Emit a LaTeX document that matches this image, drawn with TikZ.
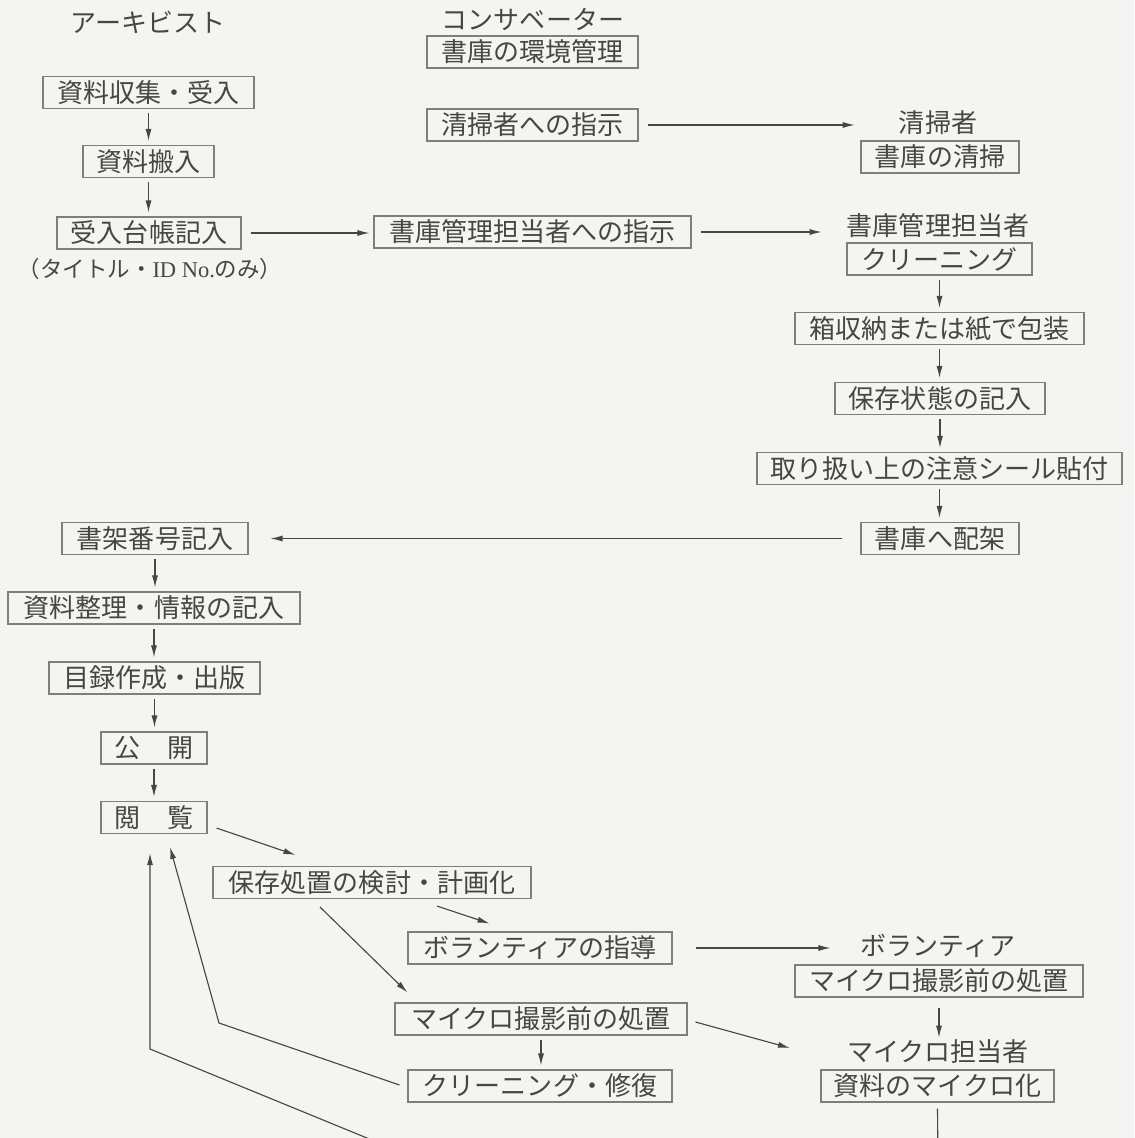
\documentclass[tikz,border=0pt]{standalone}
\usepackage{fontspec}
\setmainfont{Noto Sans CJK JP}
\newfontfamily\latserif{Liberation Serif}
\usetikzlibrary{arrows.meta,calc}
\definecolor{bg}{HTML}{F4F4F2}
\definecolor{ink}{HTML}{474643}
\definecolor{frame}{HTML}{807E77}
\newdimen\pxu \pxu=0.025cm
\begin{document}
\begin{tikzpicture}[x=0.025cm,y=-0.025cm,
  bx/.style={draw=frame, line width=0.75pt, text=ink, inner xsep=0pt, inner ysep=0pt,
    minimum height=32\pxu, minimum width=#1\pxu, font=\fontsize{18.5}{20}\selectfont},
  ttl/.style={text=ink, inner sep=0pt, font=\fontsize{18.5}{20}\selectfont},
  note/.style={text=ink, inner sep=0pt, font=\fontsize{16}{18}\selectfont},
  arr/.style={draw=ink, line width=0.8pt, -{Latex[length=3mm,width=1.5mm]}},
  vert/.style={arr, shorten <=4\pxu, shorten >=4\pxu}
]
\useasboundingbox (0,0) rectangle (1134,1138);
\fill[bg] (0,0) rectangle (1134,1138);
\clip (0,0) rectangle (1134,1138);

% archivist column
\node[ttl] (arch) at (148,22) {アーキビスト};
\node[bx=211] (shushu) at (148.5,92.5) {資料収集・受入};
\node[bx=131] (hannyu) at (148.5,161.5) {資料搬入};
\node[bx=184] (daicho) at (149,233) {受入台帳記入};
\node[note] (note) at (150,269) {（タイトル・{\latserif ID No.}のみ）};

% conservator column
\node[ttl] (cons) at (533,20) {コンサベーター};
\node[bx=211] (kankyo) at (532.5,52) {書庫の環境管理};
\node[bx=211] (shiji1) at (532.5,125) {清掃者への指示};
\node[bx=317] (shiji2) at (532.5,232) {書庫管理担当者への指示};

% right column
\node[ttl] (seisosha) at (938,123) {清掃者};
\node[bx=158] (seiso) at (940,157) {書庫の清掃};
\node[ttl] (kanri) at (938,226) {書庫管理担当者};
\node[bx=185] (cl1) at (939.5,259) {クリーニング};
\node[bx=289] (hako) at (939.5,328.5) {箱収納または紙で包装};
\node[bx=210] (jotai) at (940,398.5) {保存状態の記入};
\node[bx=365] (seal) at (939.5,468.5) {取り扱い上の注意シール貼付};
\node[bx=158] (haika) at (940,538.5) {書庫へ配架};

% left lower column
\node[bx=186] (shoka) at (155,538.5) {書架番号記入};
\node[bx=292] (seiri) at (154,608) {資料整理・情報の記入};
\node[bx=211] (mokuroku) at (154.5,678) {目録作成・出版};
\node[bx=106] (kokai) at (154,748) {公　開};
\node[bx=106] (etsuran) at (154,817.5) {閲　覧};

% middle lower
\node[bx=318] (kento) at (372,882.5) {保存処置の検討・計画化};
\node[bx=264] (shido) at (540,948) {ボランティアの指導};
\node[bx=292] (mae) at (541,1019) {マイクロ撮影前の処置};
\node[bx=264] (shufuku) at (540,1086) {クリーニング・修復};

% right lower
\node[ttl] (vol) at (938,946) {ボランティア};
\node[bx=288] (vmae) at (939,981) {マイクロ撮影前の処置};
\node[ttl] (mtan) at (938,1052) {マイクロ担当者};
\node[bx=233] (mka) at (937.5,1086) {資料のマイクロ化};

% vertical arrows
\draw[vert] (shushu.south) -- (shushu.south |- hannyu.north);
\draw[vert] (hannyu.south) -- (hannyu.south |- daicho.north);
\draw[vert] (cl1.south) -- (cl1.south |- hako.north);
\draw[vert] (hako.south) -- (hako.south |- jotai.north);
\draw[vert] (jotai.south) -- (jotai.south |- seal.north);
\draw[vert] (seal.south) -- (seal.south |- haika.north);
\draw[vert] (shoka.south) -- (shoka.south |- seiri.north);
\draw[vert] (seiri.south) -- (seiri.south |- mokuroku.north);
\draw[vert] (mokuroku.south) -- (mokuroku.south |- kokai.north);
\draw[vert] (kokai.south) -- (kokai.south |- etsuran.north);
\draw[vert] (mae.south) -- (mae.south |- shufuku.north);
\draw[arr, shorten <=10\pxu, shorten >=2\pxu] (vmae.south) -- (vmae.south |- mtan.north);

% horizontal arrows
\draw[arr, shorten <=9\pxu, shorten >=4\pxu] (daicho.east) -- (daicho.east -| shiji2.west);
\draw[arr, shorten <=9\pxu, shorten >=44\pxu] (shiji1.east) -- (shiji1.east -| seisosha.west);
\draw[arr, shorten <=9\pxu, shorten >=25\pxu] (shiji2.east) -- (shiji2.east -| kanri.west);
\draw[arr, shorten <=18\pxu, shorten >=22\pxu] (haika.west) -- (haika.west -| shoka.east);
\draw[arr, shorten <=23\pxu, shorten >=30\pxu] (shido.east) -- (shido.east -| vol.west);

% diagonal arrows
\draw[arr] ($(etsuran.south east)+(9,-6)$) -- ($(kento.north west)+(83,-11)$);
\draw[arr] ($(kento.south)+(65,7)$) -- ($(shido.north west)+(82,-8)$);
\draw[arr] ($(kento.south)+(-52,8)$) -- ($(mae.north west)+(13,-10)$);
\draw[arr] ($(mae.east)+(8,3)$) -- ($(mtan.west)+(-57,-4)$);

% return arrows to etsuran
\coordinate (c1) at (219,1023);
\draw[arr] ($(shufuku.west)+(-8,-1)$) -- (c1) -- ($(etsuran.south)+(16,13)$);
\coordinate (c2) at (938,1170);
\coordinate (c3) at (445,1170);
\coordinate (c4) at (150,1049);
\draw[arr] ($(mka.south)+(0,6)$) -- (c2) -- (c3) -- (c4) -- ($(etsuran.south)+(-4,19)$);
\end{tikzpicture}
\end{document}
